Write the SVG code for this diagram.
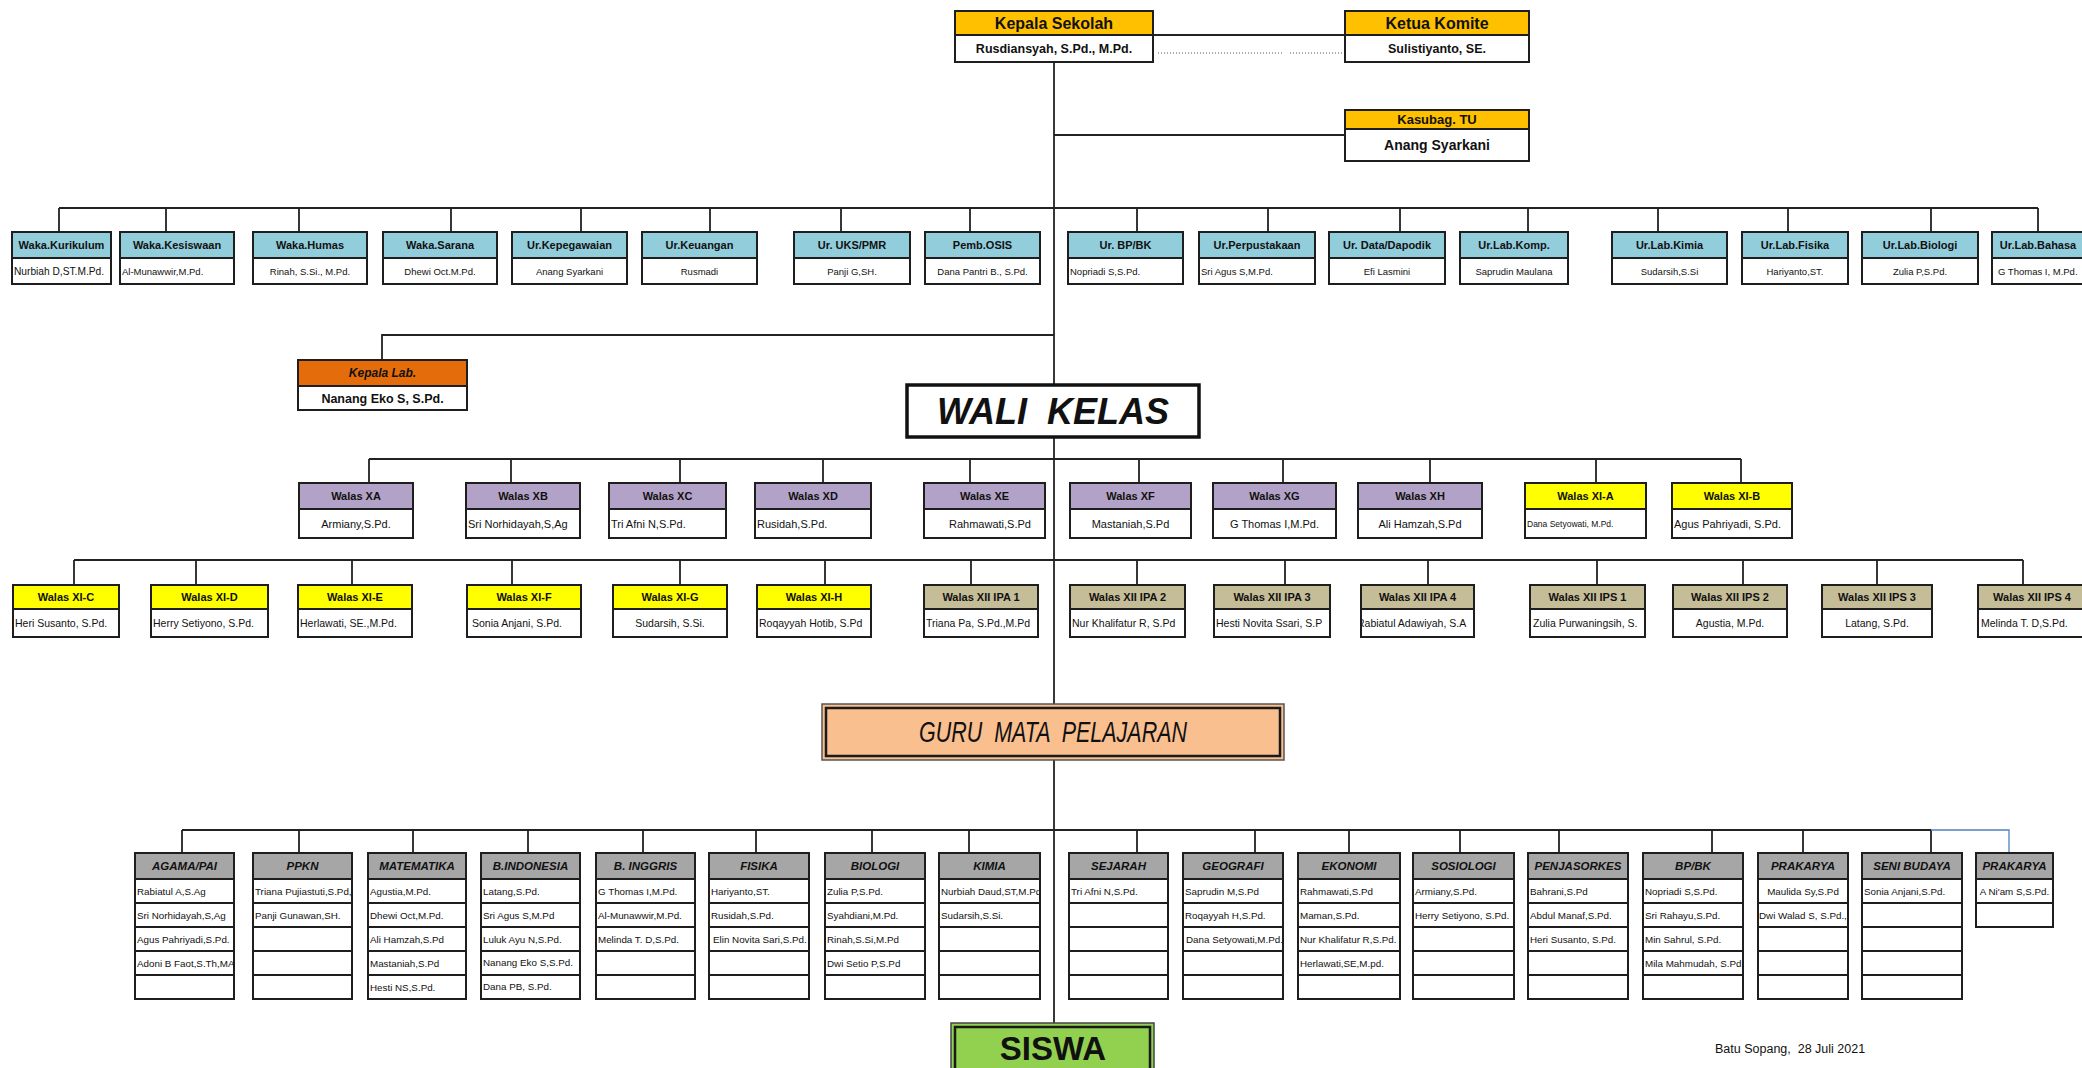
<svg xmlns="http://www.w3.org/2000/svg" width="2082" height="1068" viewBox="0 0 2082 1068">
<style>
text{font-family:"Liberation Sans",Arial,sans-serif;fill:#111}
.b{stroke:#1e1e1e;stroke-width:2}
.wh{fill:#fff}
.or{fill:#FFC000}
.bl{fill:#92CDDC}
.lv{fill:#B3A2C7}
.ye{fill:#FFFF00}
.tn{fill:#C4BD97}
.gr{fill:#A6A6A6}
.ln{stroke:#222;stroke-width:1.8;fill:none}
.c{text-anchor:middle}
.h16{font-size:16px;font-weight:bold}
.h11{font-size:11px;font-weight:bold}
.n95{font-size:9.5px}
.n11{font-size:11px}
.n105{font-size:10.5px}
.sh{font-size:11.5px;font-weight:bold;font-style:italic}
.sn{font-size:9.8px}
</style>
<defs>
<clipPath id="cpIPA4"><rect x="1362" y="610" width="111" height="26"/></clipPath>
<clipPath id="cpKimia"><rect x="940" y="880" width="99" height="22"/></clipPath>
</defs>
<rect width="2082" height="1068" fill="#fff"/>

<g id="connectors">
<line class="ln" x1="1054" y1="62" x2="1054" y2="1023"/>
<line class="ln" x1="1153" y1="35" x2="1345" y2="35"/>
<line x1="1158" y1="53" x2="1283" y2="53" stroke="#555" stroke-width="1" stroke-dasharray="1 2"/>
<line x1="1290" y1="53" x2="1343" y2="53" stroke="#555" stroke-width="1" stroke-dasharray="1 2"/>
<line class="ln" x1="1054" y1="135" x2="1345" y2="135"/>
<line class="ln" x1="59" y1="208" x2="2038" y2="208"/>
<path class="ln" d="M59 208V232M166 208V232M299 208V232M451 208V232M581 208V232M710 208V232M841 208V232M970 208V232M1137 208V232M1268 208V232M1400 208V232M1528 208V232M1658 208V232M1788 208V232M1931 208V232M2038 208V232"/>
<path class="ln" d="M1054 335H382V360"/>
<line class="ln" x1="369" y1="459" x2="1741" y2="459"/>
<path class="ln" d="M369 459V483M511 459V483M680 459V483M823 459V483M970 459V483M1139 459V483M1283 459V483M1430 459V483M1596 459V483M1741 459V483"/>
<line class="ln" x1="74" y1="560" x2="2023" y2="560"/>
<path class="ln" d="M74 560V585M196 560V585M352 560V585M512 560V585M680 560V585M825 560V585M971 560V585M1137 560V585M1285 560V585M1428 560V585M1597 560V585M1743 560V585M1877 560V585M2023 560V585"/>
<line class="ln" x1="182" y1="830" x2="1931" y2="830"/>
<path class="ln" d="M182 830V853M299 830V853M413 830V853M528 830V853M643 830V853M756 830V853M872 830V853M969 830V853M1137 830V853M1255 830V853M1349 830V853M1460 830V853M1559 830V853M1712 830V853M1803 830V853M1931 830V853"/>
<path d="M1931 830H2009V853" stroke="#4F81BD" stroke-width="1.3" fill="none"/>
</g>

<g id="kepala-sekolah">
<rect class="b or" x="955" y="11" width="198" height="24"/>
<rect class="b wh" x="955" y="35" width="198" height="27"/>
<text class="h16 c" x="1054" y="29">Kepala Sekolah</text>
<text class="c" x="1054" y="53" font-size="12.5" font-weight="bold">Rusdiansyah, S.Pd., M.Pd.</text>
</g>
<g id="ketua-komite">
<rect class="b or" x="1345" y="11" width="184" height="24"/>
<rect class="b wh" x="1345" y="35" width="184" height="27"/>
<text class="h16 c" x="1437" y="29">Ketua Komite</text>
<text class="c" x="1437" y="53" font-size="12.5" font-weight="bold">Sulistiyanto, SE.</text>
</g>
<g id="kasubag-tu">
<rect class="b or" x="1345" y="110" width="184" height="19"/>
<rect class="b wh" x="1345" y="129" width="184" height="32"/>
<text class="c" x="1437" y="124" font-size="13" font-weight="bold">Kasubag. TU</text>
<text class="c" x="1437" y="150" font-size="14" font-weight="bold">Anang Syarkani</text>
</g>

<g id="waka-kurikulum"><rect class="b bl" x="12" y="232" width="99" height="26"/><rect class="b wh" x="12" y="258" width="99" height="26"/><text class="h11 c" x="61.5" y="249">Waka.Kurikulum</text><text x="14" y="275" font-size="10.2">Nurbiah D,ST.M.Pd.</text></g>
<g id="waka-kesiswaan"><rect class="b bl" x="120" y="232" width="114" height="26"/><rect class="b wh" x="120" y="258" width="114" height="26"/><text class="h11 c" x="177" y="249">Waka.Kesiswaan</text><text class="n95" x="122" y="275">Al-Munawwir,M.Pd.</text></g>
<g id="waka-humas"><rect class="b bl" x="253" y="232" width="114" height="26"/><rect class="b wh" x="253" y="258" width="114" height="26"/><text class="h11 c" x="310" y="249">Waka.Humas</text><text class="n95 c" x="310" y="275">Rinah, S.Si., M.Pd.</text></g>
<g id="waka-sarana"><rect class="b bl" x="383" y="232" width="114" height="26"/><rect class="b wh" x="383" y="258" width="114" height="26"/><text class="h11 c" x="440" y="249">Waka.Sarana</text><text class="n95 c" x="440" y="275">Dhewi Oct.M.Pd.</text></g>
<g id="ur-kepegawaian"><rect class="b bl" x="512" y="232" width="115" height="26"/><rect class="b wh" x="512" y="258" width="115" height="26"/><text class="h11 c" x="569.5" y="249">Ur.Kepegawaian</text><text class="n95 c" x="569.5" y="275">Anang Syarkani</text></g>
<g id="ur-keuangan"><rect class="b bl" x="642" y="232" width="115" height="26"/><rect class="b wh" x="642" y="258" width="115" height="26"/><text class="h11 c" x="699.5" y="249">Ur.Keuangan</text><text class="n95 c" x="699.5" y="275">Rusmadi</text></g>
<g id="ur-uks"><rect class="b bl" x="794" y="232" width="116" height="26"/><rect class="b wh" x="794" y="258" width="116" height="26"/><text class="h11 c" x="852" y="249">Ur. UKS/PMR</text><text class="n95 c" x="852" y="275">Panji G,SH.</text></g>
<g id="pemb-osis"><rect class="b bl" x="925" y="232" width="115" height="26"/><rect class="b wh" x="925" y="258" width="115" height="26"/><text class="h11 c" x="982.5" y="249">Pemb.OSIS</text><text class="n95 c" x="982.5" y="275">Dana Pantri B., S.Pd.</text></g>
<g id="ur-bpbk"><rect class="b bl" x="1068" y="232" width="115" height="26"/><rect class="b wh" x="1068" y="258" width="115" height="26"/><text class="h11 c" x="1125.5" y="249">Ur. BP/BK</text><text class="n95" x="1070" y="275">Nopriadi S,S.Pd.</text></g>
<g id="ur-perpustakaan"><rect class="b bl" x="1199" y="232" width="116" height="26"/><rect class="b wh" x="1199" y="258" width="116" height="26"/><text class="h11 c" x="1257" y="249">Ur.Perpustakaan</text><text class="n95" x="1201" y="275">Sri Agus S,M.Pd.</text></g>
<g id="ur-data"><rect class="b bl" x="1329" y="232" width="116" height="26"/><rect class="b wh" x="1329" y="258" width="116" height="26"/><text class="h11 c" x="1387" y="249">Ur. Data/Dapodik</text><text class="n95 c" x="1387" y="275">Efi Lasmini</text></g>
<g id="ur-lab-komp"><rect class="b bl" x="1460" y="232" width="108" height="26"/><rect class="b wh" x="1460" y="258" width="108" height="26"/><text class="h11 c" x="1514" y="249">Ur.Lab.Komp.</text><text class="n95 c" x="1514" y="275">Saprudin Maulana</text></g>
<g id="ur-lab-kimia"><rect class="b bl" x="1612" y="232" width="115" height="26"/><rect class="b wh" x="1612" y="258" width="115" height="26"/><text class="h11 c" x="1669.5" y="249">Ur.Lab.Kimia</text><text class="n95 c" x="1669.5" y="275">Sudarsih,S.Si</text></g>
<g id="ur-lab-fisika"><rect class="b bl" x="1742" y="232" width="106" height="26"/><rect class="b wh" x="1742" y="258" width="106" height="26"/><text class="h11 c" x="1795" y="249">Ur.Lab.Fisika</text><text class="n95 c" x="1795" y="275">Hariyanto,ST.</text></g>
<g id="ur-lab-biologi"><rect class="b bl" x="1862" y="232" width="116" height="26"/><rect class="b wh" x="1862" y="258" width="116" height="26"/><text class="h11 c" x="1920" y="249">Ur.Lab.Biologi</text><text class="n95 c" x="1920" y="275">Zulia P,S.Pd.</text></g>
<g id="ur-lab-bahasa"><rect class="b bl" x="1992" y="232" width="100" height="26"/><rect class="b wh" x="1992" y="258" width="100" height="26"/><text class="h11 c" x="2038" y="249">Ur.Lab.Bahasa</text><text class="n95" x="1998" y="275">G Thomas I, M.Pd.</text></g>

<g id="kepala-lab">
<rect class="b" fill="#E46C0A" x="298" y="360" width="169" height="26"/>
<rect class="b wh" x="298" y="386" width="169" height="24"/>
<text class="c" x="382.5" y="377" font-size="12" font-weight="bold" font-style="italic">Kepala Lab.</text>
<text class="c" x="382.5" y="402.5" font-size="12.5" font-weight="bold">Nanang Eko S, S.Pd.</text>
</g>

<g id="wali-kelas">
<rect x="907" y="385" width="292" height="52" fill="#fff" stroke="#111" stroke-width="3.5"/>
<text class="c" x="1053" y="424" font-size="36" font-weight="bold" font-style="italic" xml:space="preserve">WALI  KELAS</text>
</g>

<g id="walas-xa"><rect class="b lv" x="299" y="483" width="114" height="26"/><rect class="b wh" x="299" y="509" width="114" height="29"/><text class="h11 c" x="356" y="500">Walas XA</text><text class="n11 c" x="356" y="528">Armiany,S.Pd.</text></g>
<g id="walas-xb"><rect class="b lv" x="466" y="483" width="114" height="26"/><rect class="b wh" x="466" y="509" width="114" height="29"/><text class="h11 c" x="523" y="500">Walas XB</text><text class="n11" x="468" y="528">Sri Norhidayah,S,Ag</text></g>
<g id="walas-xc"><rect class="b lv" x="609" y="483" width="117" height="26"/><rect class="b wh" x="609" y="509" width="117" height="29"/><text class="h11 c" x="667.5" y="500">Walas XC</text><text class="n11" x="611" y="528">Tri Afni N,S.Pd.</text></g>
<g id="walas-xd"><rect class="b lv" x="755" y="483" width="116" height="26"/><rect class="b wh" x="755" y="509" width="116" height="29"/><text class="h11 c" x="813" y="500">Walas XD</text><text class="n11" x="757" y="528">Rusidah,S.Pd.</text></g>
<g id="walas-xe"><rect class="b lv" x="924" y="483" width="121" height="26"/><rect class="b wh" x="924" y="509" width="121" height="29"/><text class="h11 c" x="984.5" y="500">Walas XE</text><text class="n11 c" x="990" y="528">Rahmawati,S.Pd</text></g>
<g id="walas-xf"><rect class="b lv" x="1070" y="483" width="121" height="26"/><rect class="b wh" x="1070" y="509" width="121" height="29"/><text class="h11 c" x="1130.5" y="500">Walas XF</text><text class="n11 c" x="1130.5" y="528">Mastaniah,S.Pd</text></g>
<g id="walas-xg"><rect class="b lv" x="1213" y="483" width="123" height="26"/><rect class="b wh" x="1213" y="509" width="123" height="29"/><text class="h11 c" x="1274.5" y="500">Walas XG</text><text class="n11 c" x="1274.5" y="528">G Thomas I,M.Pd.</text></g>
<g id="walas-xh"><rect class="b lv" x="1358" y="483" width="124" height="26"/><rect class="b wh" x="1358" y="509" width="124" height="29"/><text class="h11 c" x="1420" y="500">Walas XH</text><text class="n11 c" x="1420" y="528">Ali Hamzah,S.Pd</text></g>
<g id="walas-xi-a"><rect class="b ye" x="1525" y="483" width="121" height="26"/><rect class="b wh" x="1525" y="509" width="121" height="29"/><text class="h11 c" x="1585.5" y="500">Walas XI-A</text><text x="1527" y="527" font-size="8.5">Dana Setyowati, M.Pd.</text></g>
<g id="walas-xi-b"><rect class="b ye" x="1672" y="483" width="120" height="26"/><rect class="b wh" x="1672" y="509" width="120" height="29"/><text class="h11 c" x="1732" y="500">Walas XI-B</text><text class="n11" x="1674" y="528">Agus Pahriyadi, S.Pd.</text></g>

<g id="walas-xi-c"><rect class="b ye" x="13" y="585" width="106" height="24"/><rect class="b wh" x="13" y="609" width="106" height="28"/><text class="h11 c" x="66" y="601">Walas XI-C</text><text class="n105" x="15" y="627">Heri Susanto, S.Pd.</text></g>
<g id="walas-xi-d"><rect class="b ye" x="151" y="585" width="117" height="24"/><rect class="b wh" x="151" y="609" width="117" height="28"/><text class="h11 c" x="209.5" y="601">Walas XI-D</text><text class="n105" x="153" y="627">Herry Setiyono, S.Pd.</text></g>
<g id="walas-xi-e"><rect class="b ye" x="298" y="585" width="114" height="24"/><rect class="b wh" x="298" y="609" width="114" height="28"/><text class="h11 c" x="355" y="601">Walas XI-E</text><text class="n105" x="300" y="627">Herlawati, SE.,M.Pd.</text></g>
<g id="walas-xi-f"><rect class="b ye" x="467" y="585" width="114" height="24"/><rect class="b wh" x="467" y="609" width="114" height="28"/><text class="h11 c" x="524" y="601">Walas XI-F</text><text class="n105" x="472" y="627">Sonia Anjani, S.Pd.</text></g>
<g id="walas-xi-g"><rect class="b ye" x="613" y="585" width="114" height="24"/><rect class="b wh" x="613" y="609" width="114" height="28"/><text class="h11 c" x="670" y="601">Walas XI-G</text><text class="n105 c" x="670" y="627">Sudarsih, S.Si.</text></g>
<g id="walas-xi-h"><rect class="b ye" x="757" y="585" width="114" height="24"/><rect class="b wh" x="757" y="609" width="114" height="28"/><text class="h11 c" x="814" y="601">Walas XI-H</text><text class="n105" x="759" y="627">Roqayyah Hotib, S.Pd</text></g>
<g id="walas-xii-ipa1"><rect class="b tn" x="924" y="585" width="114" height="24"/><rect class="b wh" x="924" y="609" width="114" height="28"/><text class="h11 c" x="981" y="601">Walas XII IPA 1</text><text class="n105" x="926" y="627">Triana Pa, S.Pd.,M.Pd</text></g>
<g id="walas-xii-ipa2"><rect class="b tn" x="1070" y="585" width="115" height="24"/><rect class="b wh" x="1070" y="609" width="115" height="28"/><text class="h11 c" x="1127.5" y="601">Walas XII IPA 2</text><text class="n105" x="1072" y="627">Nur Khalifatur R, S.Pd</text></g>
<g id="walas-xii-ipa3"><rect class="b tn" x="1214" y="585" width="116" height="24"/><rect class="b wh" x="1214" y="609" width="116" height="28"/><text class="h11 c" x="1272" y="601">Walas XII IPA 3</text><text class="n105" x="1216" y="627">Hesti Novita Ssari, S.P</text></g>
<g id="walas-xii-ipa4"><rect class="b tn" x="1361" y="585" width="113" height="24"/><rect class="b wh" x="1361" y="609" width="113" height="28"/><text class="h11 c" x="1417.5" y="601">Walas XII IPA 4</text><text class="n105" x="1357" y="627" clip-path="url(#cpIPA4)">Rabiatul Adawiyah, S.A</text></g>
<g id="walas-xii-ips1"><rect class="b tn" x="1530" y="585" width="115" height="24"/><rect class="b wh" x="1530" y="609" width="115" height="28"/><text class="h11 c" x="1587.5" y="601">Walas XII IPS 1</text><text class="n105" x="1533" y="627">Zulia Purwaningsih, S.</text></g>
<g id="walas-xii-ips2"><rect class="b tn" x="1673" y="585" width="114" height="24"/><rect class="b wh" x="1673" y="609" width="114" height="28"/><text class="h11 c" x="1730" y="601">Walas XII IPS 2</text><text class="n105 c" x="1730" y="627">Agustia, M.Pd.</text></g>
<g id="walas-xii-ips3"><rect class="b tn" x="1822" y="585" width="110" height="24"/><rect class="b wh" x="1822" y="609" width="110" height="28"/><text class="h11 c" x="1877" y="601">Walas XII IPS 3</text><text class="n105 c" x="1877" y="627">Latang, S.Pd.</text></g>
<g id="walas-xii-ips4"><rect class="b tn" x="1978" y="585" width="110" height="24"/><rect class="b wh" x="1978" y="609" width="110" height="28"/><text class="h11 c" x="2032" y="601">Walas XII IPS 4</text><text class="n105" x="1981" y="627">Melinda T. D,S.Pd.</text></g>

<g id="guru-mata-pelajaran">
<rect x="822" y="704" width="462" height="56" fill="#FABF8F" stroke="#555" stroke-width="1.5"/>
<rect x="826" y="708" width="454" height="48" fill="none" stroke="#1a1a1a" stroke-width="2.5"/>
<text class="c" x="1053" y="742" font-size="30" font-style="italic" textLength="268" lengthAdjust="spacingAndGlyphs" xml:space="preserve">GURU  MATA  PELAJARAN</text>
</g>

<g id="agama"><rect class="b gr" x="135" y="853" width="99" height="26"/><rect class="b wh" x="135" y="879" width="99" height="24"/><rect class="b wh" x="135" y="903" width="99" height="24"/><rect class="b wh" x="135" y="927" width="99" height="24"/><rect class="b wh" x="135" y="951" width="99" height="24"/><rect class="b wh" x="135" y="975" width="99" height="24"/><text class="sh c" x="184.5" y="870">AGAMA/PAI</text><text class="sn" x="137" y="895">Rabiatul A,S.Ag</text><text class="sn" x="137" y="919">Sri Norhidayah,S,Ag</text><text class="sn" x="137" y="943">Agus Pahriyadi,S.Pd.</text><text class="sn" x="137" y="967">Adoni B Faot,S.Th,MA</text></g>
<g id="ppkn"><rect class="b gr" x="253" y="853" width="99" height="26"/><rect class="b wh" x="253" y="879" width="99" height="24"/><rect class="b wh" x="253" y="903" width="99" height="24"/><rect class="b wh" x="253" y="927" width="99" height="24"/><rect class="b wh" x="253" y="951" width="99" height="24"/><rect class="b wh" x="253" y="975" width="99" height="24"/><text class="sh c" x="302.5" y="870">PPKN</text><text class="sn" x="255" y="895">Triana Pujiastuti,S.Pd,</text><text class="sn" x="255" y="919">Panji Gunawan,SH.</text></g>
<g id="matematika"><rect class="b gr" x="368" y="853" width="98" height="26"/><rect class="b wh" x="368" y="879" width="98" height="24"/><rect class="b wh" x="368" y="903" width="98" height="24"/><rect class="b wh" x="368" y="927" width="98" height="24"/><rect class="b wh" x="368" y="951" width="98" height="24"/><rect class="b wh" x="368" y="975" width="98" height="24"/><text class="sh c" x="417" y="870">MATEMATIKA</text><text class="sn" x="370" y="895">Agustia,M.Pd.</text><text class="sn" x="370" y="919">Dhewi Oct,M.Pd.</text><text class="sn" x="370" y="943">Ali Hamzah,S.Pd</text><text class="sn" x="370" y="967">Mastaniah,S.Pd</text><text class="sn" x="370" y="991">Hesti NS,S.Pd.</text></g>
<g id="bindonesia"><rect class="b gr" x="481" y="853" width="99" height="26"/><rect class="b wh" x="481" y="879" width="99" height="24"/><rect class="b wh" x="481" y="903" width="99" height="24"/><rect class="b wh" x="481" y="927" width="99" height="24"/><rect class="b wh" x="481" y="951" width="99" height="24"/><rect class="b wh" x="481" y="975" width="99" height="24"/><text class="sh c" x="530.5" y="870">B.INDONESIA</text><text class="sn" x="483" y="895">Latang,S.Pd.</text><text class="sn" x="483" y="919">Sri Agus S,M.Pd</text><text class="sn" x="483" y="943">Luluk Ayu N,S.Pd.</text><text class="sn" x="483" y="966">Nanang Eko S,S.Pd.</text><text class="sn" x="483" y="990">Dana PB, S.Pd.</text></g>
<g id="binggris"><rect class="b gr" x="596" y="853" width="99" height="26"/><rect class="b wh" x="596" y="879" width="99" height="24"/><rect class="b wh" x="596" y="903" width="99" height="24"/><rect class="b wh" x="596" y="927" width="99" height="24"/><rect class="b wh" x="596" y="951" width="99" height="24"/><rect class="b wh" x="596" y="975" width="99" height="24"/><text class="sh c" x="645.5" y="870">B. INGGRIS</text><text class="sn" x="598" y="895">G Thomas I,M.Pd.</text><text class="sn" x="598" y="919">Al-Munawwir,M.Pd.</text><text class="sn" x="598" y="943">Melinda T. D,S.Pd.</text></g>
<g id="fisika"><rect class="b gr" x="709" y="853" width="100" height="26"/><rect class="b wh" x="709" y="879" width="100" height="24"/><rect class="b wh" x="709" y="903" width="100" height="24"/><rect class="b wh" x="709" y="927" width="100" height="24"/><rect class="b wh" x="709" y="951" width="100" height="24"/><rect class="b wh" x="709" y="975" width="100" height="24"/><text class="sh c" x="759" y="870">FISIKA</text><text class="sn" x="711" y="895">Hariyanto,ST.</text><text class="sn" x="711" y="919">Rusidah,S.Pd.</text><text class="sn" x="713" y="943">Elin Novita Sari,S.Pd.</text></g>
<g id="biologi"><rect class="b gr" x="825" y="853" width="100" height="26"/><rect class="b wh" x="825" y="879" width="100" height="24"/><rect class="b wh" x="825" y="903" width="100" height="24"/><rect class="b wh" x="825" y="927" width="100" height="24"/><rect class="b wh" x="825" y="951" width="100" height="24"/><rect class="b wh" x="825" y="975" width="100" height="24"/><text class="sh c" x="875" y="870">BIOLOGI</text><text class="sn" x="827" y="895">Zulia P,S.Pd.</text><text class="sn" x="827" y="919">Syahdiani,M.Pd.</text><text class="sn" x="827" y="943">Rinah,S.Si,M.Pd</text><text class="sn" x="827" y="967">Dwi Setio P,S.Pd</text></g>
<g id="kimia"><rect class="b gr" x="939" y="853" width="101" height="26"/><rect class="b wh" x="939" y="879" width="101" height="24"/><rect class="b wh" x="939" y="903" width="101" height="24"/><rect class="b wh" x="939" y="927" width="101" height="24"/><rect class="b wh" x="939" y="951" width="101" height="24"/><rect class="b wh" x="939" y="975" width="101" height="24"/><text class="sh c" x="989.5" y="870">KIMIA</text><text class="sn" x="941" y="895" clip-path="url(#cpKimia)">Nurbiah Daud,ST,M.Pd</text><text class="sn" x="941" y="919">Sudarsih,S.Si.</text></g>
<g id="sejarah"><rect class="b gr" x="1069" y="853" width="99" height="26"/><rect class="b wh" x="1069" y="879" width="99" height="24"/><rect class="b wh" x="1069" y="903" width="99" height="24"/><rect class="b wh" x="1069" y="927" width="99" height="24"/><rect class="b wh" x="1069" y="951" width="99" height="24"/><rect class="b wh" x="1069" y="975" width="99" height="24"/><text class="sh c" x="1118.5" y="870">SEJARAH</text><text class="sn" x="1071" y="895">Tri Afni N,S.Pd.</text></g>
<g id="geografi"><rect class="b gr" x="1183" y="853" width="100" height="26"/><rect class="b wh" x="1183" y="879" width="100" height="24"/><rect class="b wh" x="1183" y="903" width="100" height="24"/><rect class="b wh" x="1183" y="927" width="100" height="24"/><rect class="b wh" x="1183" y="951" width="100" height="24"/><rect class="b wh" x="1183" y="975" width="100" height="24"/><text class="sh c" x="1233" y="870">GEOGRAFI</text><text class="sn" x="1185" y="895">Saprudin M,S.Pd</text><text class="sn" x="1185" y="919">Roqayyah H,S.Pd.</text><text class="sn" x="1186" y="943">Dana Setyowati,M.Pd.</text></g>
<g id="ekonomi"><rect class="b gr" x="1298" y="853" width="102" height="26"/><rect class="b wh" x="1298" y="879" width="102" height="24"/><rect class="b wh" x="1298" y="903" width="102" height="24"/><rect class="b wh" x="1298" y="927" width="102" height="24"/><rect class="b wh" x="1298" y="951" width="102" height="24"/><rect class="b wh" x="1298" y="975" width="102" height="24"/><text class="sh c" x="1349" y="870">EKONOMI</text><text class="sn" x="1300" y="895">Rahmawati,S.Pd</text><text class="sn" x="1300" y="919">Maman,S.Pd.</text><text class="sn" x="1300" y="943">Nur Khalifatur R,S.Pd.</text><text class="sn" x="1300" y="967">Herlawati,SE,M.pd.</text></g>
<g id="sosiologi"><rect class="b gr" x="1413" y="853" width="101" height="26"/><rect class="b wh" x="1413" y="879" width="101" height="24"/><rect class="b wh" x="1413" y="903" width="101" height="24"/><rect class="b wh" x="1413" y="927" width="101" height="24"/><rect class="b wh" x="1413" y="951" width="101" height="24"/><rect class="b wh" x="1413" y="975" width="101" height="24"/><text class="sh c" x="1463.5" y="870">SOSIOLOGI</text><text class="sn" x="1415" y="895">Armiany,S.Pd.</text><text class="sn" x="1415" y="919">Herry Setiyono, S.Pd.</text></g>
<g id="penjasorkes"><rect class="b gr" x="1528" y="853" width="100" height="26"/><rect class="b wh" x="1528" y="879" width="100" height="24"/><rect class="b wh" x="1528" y="903" width="100" height="24"/><rect class="b wh" x="1528" y="927" width="100" height="24"/><rect class="b wh" x="1528" y="951" width="100" height="24"/><rect class="b wh" x="1528" y="975" width="100" height="24"/><text class="sh c" x="1578" y="870">PENJASORKES</text><text class="sn" x="1530" y="895">Bahrani,S.Pd</text><text class="sn" x="1530" y="919">Abdul Manaf,S.Pd.</text><text class="sn" x="1530" y="943">Heri Susanto, S.Pd.</text></g>
<g id="bpbk"><rect class="b gr" x="1643" y="853" width="100" height="26"/><rect class="b wh" x="1643" y="879" width="100" height="24"/><rect class="b wh" x="1643" y="903" width="100" height="24"/><rect class="b wh" x="1643" y="927" width="100" height="24"/><rect class="b wh" x="1643" y="951" width="100" height="24"/><rect class="b wh" x="1643" y="975" width="100" height="24"/><text class="sh c" x="1693" y="870">BP/BK</text><text class="sn" x="1645" y="895">Nopriadi S,S.Pd.</text><text class="sn" x="1645" y="919">Sri Rahayu,S.Pd.</text><text class="sn" x="1645" y="943">Min Sahrul, S.Pd.</text><text class="sn" x="1645" y="967">Mila Mahmudah, S.Pd.</text></g>
<g id="prakarya-1"><rect class="b gr" x="1758" y="853" width="90" height="26"/><rect class="b wh" x="1758" y="879" width="90" height="24"/><rect class="b wh" x="1758" y="903" width="90" height="24"/><rect class="b wh" x="1758" y="927" width="90" height="24"/><rect class="b wh" x="1758" y="951" width="90" height="24"/><rect class="b wh" x="1758" y="975" width="90" height="24"/><text class="sh c" x="1803" y="870">PRAKARYA</text><text class="sn c" x="1803" y="895">Maulida Sy,S.Pd</text><text class="sn" x="1759" y="919" font-size="9.4">Dwi Walad S, S.Pd.,</text></g>
<g id="seni-budaya"><rect class="b gr" x="1862" y="853" width="100" height="26"/><rect class="b wh" x="1862" y="879" width="100" height="24"/><rect class="b wh" x="1862" y="903" width="100" height="24"/><rect class="b wh" x="1862" y="927" width="100" height="24"/><rect class="b wh" x="1862" y="951" width="100" height="24"/><rect class="b wh" x="1862" y="975" width="100" height="24"/><text class="sh c" x="1912" y="870">SENI BUDAYA</text><text class="sn" x="1864" y="895">Sonia Anjani,S.Pd.</text></g>
<g id="prakarya-2"><rect class="b gr" x="1976" y="853" width="77" height="26"/><rect class="b wh" x="1976" y="879" width="77" height="24"/><rect class="b wh" x="1976" y="903" width="77" height="24"/><text class="sh c" x="2014.5" y="870">PRAKARYA</text><text class="sn c" x="2014.5" y="895">A Ni'am S,S.Pd.</text></g>

<g id="siswa">
<rect x="951" y="1023" width="203" height="55" fill="#92D050" stroke="#444" stroke-width="1.5"/>
<rect x="955" y="1027" width="195" height="50" fill="none" stroke="#1a1a1a" stroke-width="2.5"/>
<text class="c" x="1053" y="1060" font-size="33" font-weight="bold" fill="#1a1a1a">SISWA</text>
</g>

<text x="1715" y="1053" font-size="12.5" xml:space="preserve">Batu Sopang,  28 Juli 2021</text>
</svg>
